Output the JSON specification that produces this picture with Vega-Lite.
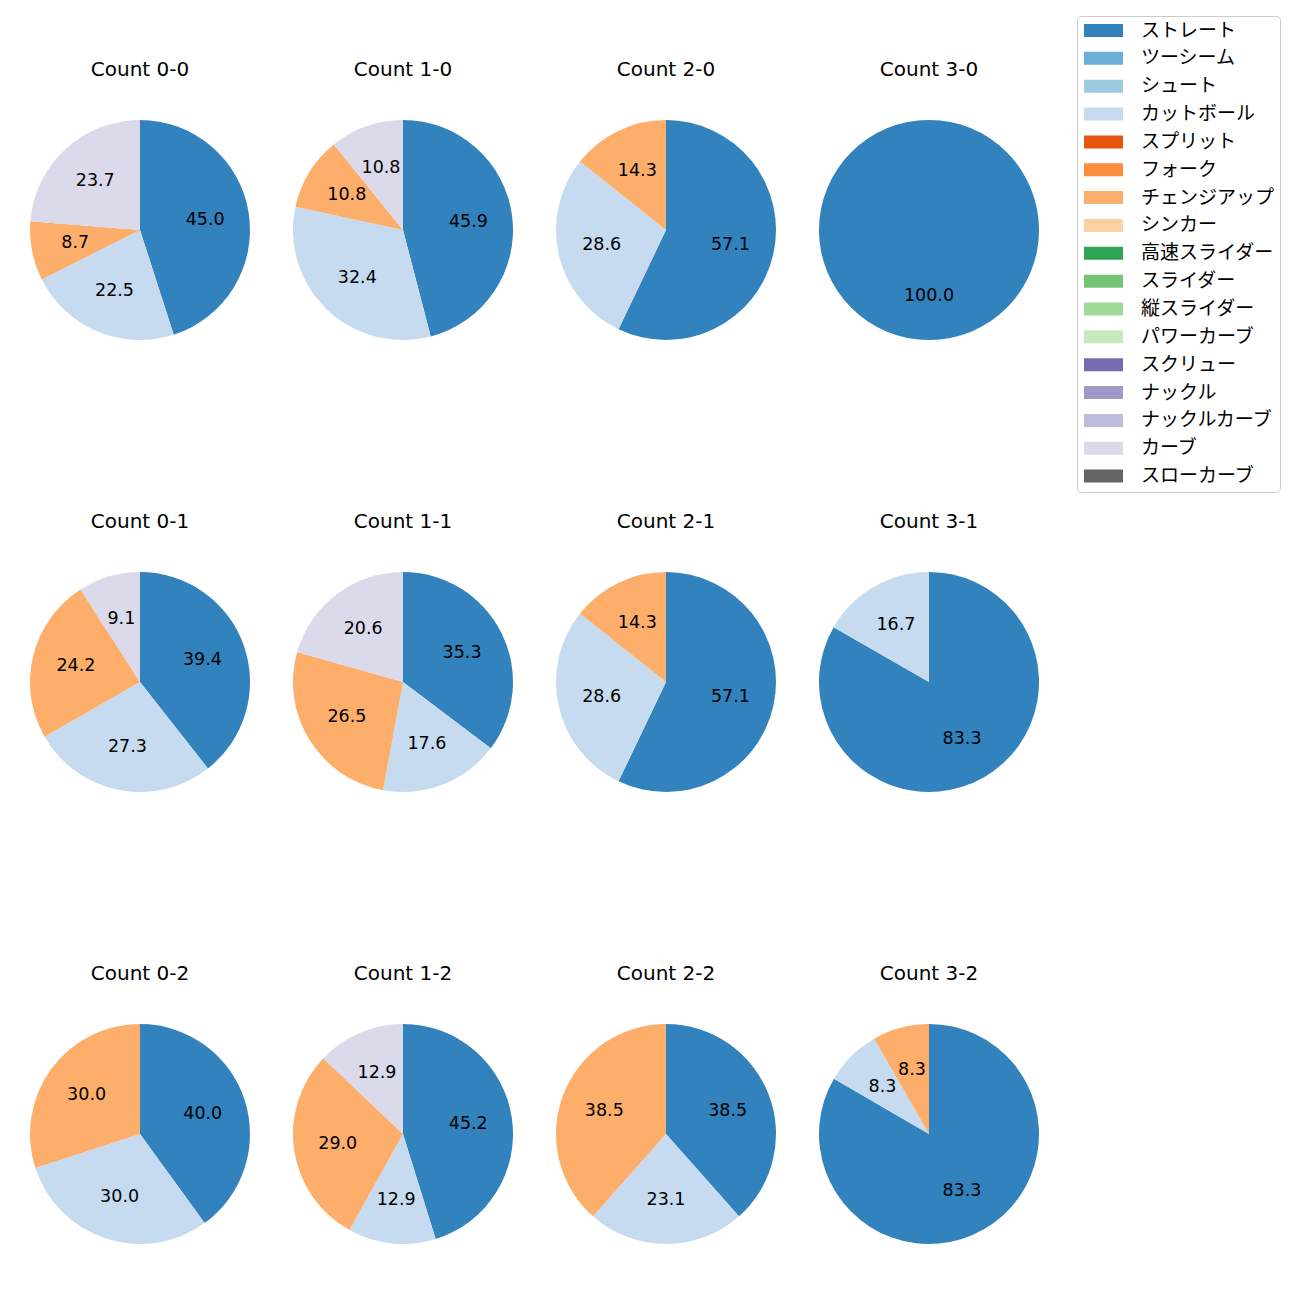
{
  "$schema": "https://vega.github.io/schema/vega-lite/v6.json",
  "padding": {"left": 30, "top": 15, "right": 5, "bottom": 5},
  "background": "white",
  "data": {"values": [
    {"count": "0-0", "pitch": "ストレート", "pct": 45.0, "idx": 0},
    {"count": "0-0", "pitch": "カットボール", "pct": 22.5, "idx": 3},
    {"count": "0-0", "pitch": "チェンジアップ", "pct": 8.7, "idx": 6},
    {"count": "0-0", "pitch": "カーブ", "pct": 23.7, "idx": 15},
    {"count": "1-0", "pitch": "ストレート", "pct": 45.9, "idx": 0},
    {"count": "1-0", "pitch": "カットボール", "pct": 32.4, "idx": 3},
    {"count": "1-0", "pitch": "チェンジアップ", "pct": 10.8, "idx": 6},
    {"count": "1-0", "pitch": "カーブ", "pct": 10.8, "idx": 15},
    {"count": "2-0", "pitch": "ストレート", "pct": 57.1, "idx": 0},
    {"count": "2-0", "pitch": "カットボール", "pct": 28.6, "idx": 3},
    {"count": "2-0", "pitch": "チェンジアップ", "pct": 14.3, "idx": 6},
    {"count": "3-0", "pitch": "ストレート", "pct": 100.0, "idx": 0},
    {"count": "0-1", "pitch": "ストレート", "pct": 39.4, "idx": 0},
    {"count": "0-1", "pitch": "カットボール", "pct": 27.3, "idx": 3},
    {"count": "0-1", "pitch": "チェンジアップ", "pct": 24.2, "idx": 6},
    {"count": "0-1", "pitch": "カーブ", "pct": 9.1, "idx": 15},
    {"count": "1-1", "pitch": "ストレート", "pct": 35.3, "idx": 0},
    {"count": "1-1", "pitch": "カットボール", "pct": 17.6, "idx": 3},
    {"count": "1-1", "pitch": "チェンジアップ", "pct": 26.5, "idx": 6},
    {"count": "1-1", "pitch": "カーブ", "pct": 20.6, "idx": 15},
    {"count": "2-1", "pitch": "ストレート", "pct": 57.1, "idx": 0},
    {"count": "2-1", "pitch": "カットボール", "pct": 28.6, "idx": 3},
    {"count": "2-1", "pitch": "チェンジアップ", "pct": 14.3, "idx": 6},
    {"count": "3-1", "pitch": "ストレート", "pct": 83.3, "idx": 0},
    {"count": "3-1", "pitch": "カットボール", "pct": 16.7, "idx": 3},
    {"count": "0-2", "pitch": "ストレート", "pct": 40.0, "idx": 0},
    {"count": "0-2", "pitch": "カットボール", "pct": 30.0, "idx": 3},
    {"count": "0-2", "pitch": "チェンジアップ", "pct": 30.0, "idx": 6},
    {"count": "1-2", "pitch": "ストレート", "pct": 45.2, "idx": 0},
    {"count": "1-2", "pitch": "カットボール", "pct": 12.9, "idx": 3},
    {"count": "1-2", "pitch": "チェンジアップ", "pct": 29.0, "idx": 6},
    {"count": "1-2", "pitch": "カーブ", "pct": 12.9, "idx": 15},
    {"count": "2-2", "pitch": "ストレート", "pct": 38.5, "idx": 0},
    {"count": "2-2", "pitch": "カットボール", "pct": 23.1, "idx": 3},
    {"count": "2-2", "pitch": "チェンジアップ", "pct": 38.5, "idx": 6},
    {"count": "3-2", "pitch": "ストレート", "pct": 83.3, "idx": 0},
    {"count": "3-2", "pitch": "カットボール", "pct": 8.3, "idx": 3},
    {"count": "3-2", "pitch": "チェンジアップ", "pct": 8.3, "idx": 6}
  ]},
  "facet": {
    "field": "count",
    "type": "nominal",
    "sort": ["0-0", "1-0", "2-0", "3-0", "0-1", "1-1", "2-1", "3-1", "0-2", "1-2", "2-2", "3-2"],
    "header": {
      "title": null,
      "labelExpr": "'Count ' + datum.value",
      "labelFont": "DejaVu Sans",
      "labelFontSize": 20,
      "labelColor": "black",
      "labelPadding": 40
    }
  },
  "columns": 4,
  "spacing": {"row": 172, "column": 43},
  "spec": {
    "width": 220,
    "height": 220,
    "layer": [
      {
        "mark": {"type": "arc", "outerRadius": 110},
        "encoding": {
          "theta": {"field": "pct", "type": "quantitative", "stack": true},
          "order": {"field": "idx", "type": "quantitative"},
          "color": {
            "field": "pitch",
            "type": "nominal",
            "scale": {
              "domain": ["ストレート", "ツーシーム", "シュート", "カットボール", "スプリット", "フォーク", "チェンジアップ", "シンカー", "高速スライダー", "スライダー", "縦スライダー", "パワーカーブ", "スクリュー", "ナックル", "ナックルカーブ", "カーブ", "スローカーブ"],
              "range": ["#3182bd", "#6baed6", "#9ecae1", "#c6dbef", "#e6550d", "#fd8d3c", "#fdae6b", "#fdd0a2", "#31a354", "#74c476", "#a1d99b", "#c7e9c0", "#756bb1", "#9e9ac8", "#bcbddc", "#dadaeb", "#636363"]
            },
            "legend": {
              "title": null,
              "orient": "none",
              "legendX": 1047,
              "legendY": -104,
              "symbolType": "M-3,-1L3,-1L3,1L-3,1Z",
              "symbolSize": 169,
              "symbolOffset": 12,
              "symbolStrokeWidth": 0,
              "labelFont": "Noto Sans CJK JP",
              "labelFontSize": 19,
              "labelColor": "black",
              "labelOffset": 28,
              "rowPadding": 7.85,
              "padding": 5,
              "strokeColor": "#cccccc",
              "cornerRadius": 4,
              "fillColor": "white",
              "labelLimit": 300
            }
          }
        }
      },
      {
        "mark": {"type": "text", "radius": 66, "font": "DejaVu Sans", "fontSize": 17.5, "color": "black"},
        "encoding": {
          "theta": {"field": "pct", "type": "quantitative", "stack": true},
          "order": {"field": "idx", "type": "quantitative"},
          "text": {"field": "pct", "type": "quantitative", "format": ".1f"}
        }
      }
    ]
  },
  "resolve": {"scale": {"theta": "independent"}},
  "config": {"view": {"stroke": null}}
}
